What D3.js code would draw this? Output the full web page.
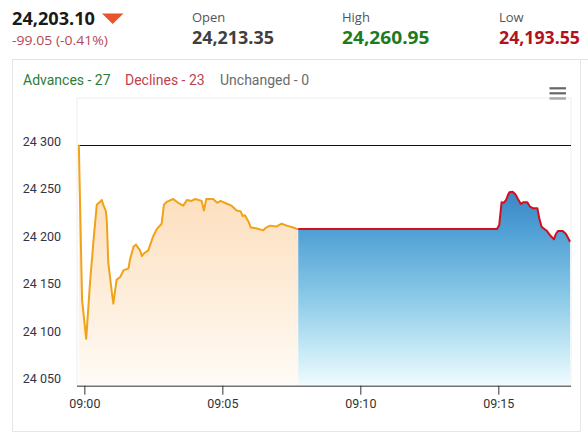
<!DOCTYPE html>
<html><head><meta charset="utf-8">
<script src="https://cdn.jsdelivr.net/npm/d3@7"></script>
<style>
html,body{margin:0;padding:0;background:#fff;}
svg{display:block;}
</style></head>
<body><svg id="c" width="588" height="432"></svg>
<script>
// ---- data ----
const lastPrice = 24203.10;
const change = -99.05;
const changePct = -0.41;
const prevClose = 24302.15;
const statLabels = ["Open", "High", "Low"];
const statValues = [24213.35, 24260.95, 24193.55];
const breadthLabels = ["Advances", "Declines", "Unchanged"];
const breadthValues = [27, 23, 0];

const preTimes = ["08:59:48","08:59:55","09:00:04","09:00:12","09:00:20","09:00:27","09:00:38","09:00:41","09:00:47","09:00:49","09:00:52","09:01:00","09:01:03","09:01:10","09:01:18","09:01:25","09:01:36","09:01:39","09:01:47","09:01:52","09:02:01","09:02:05","09:02:10","09:02:19","09:02:29","09:02:37","09:02:48","09:02:53","09:02:59","09:03:13","09:03:24","09:03:35","09:03:43","09:03:53","09:04:01","09:04:15","09:04:20","09:04:25","09:04:40","09:04:49","09:04:56","09:05:10","09:05:20","09:05:31","09:05:40","09:05:44","09:05:49","09:05:57","09:06:02","09:06:15","09:06:29","09:06:35","09:06:44","09:06:57","09:07:09","09:07:20","09:07:34","09:07:45"];
const preValues = [24302,24139,24098,24155,24202,24239,24244,24239,24232,24220,24178,24146,24135,24160,24163,24170,24172,24181,24195,24197,24191,24185,24188,24191,24205,24213,24219,24239,24242,24245,24241,24238,24244,24243,24245,24243,24233,24245,24245,24241,24243,24240,24238,24233,24232,24227,24228,24221,24215,24214,24212,24215,24217,24216,24219,24217,24215,24213];

const mktTimes = ["09:07:45","09:14:57","09:15:02","09:15:07","09:15:12","09:15:17","09:15:20","09:15:24","09:15:31","09:15:37","09:15:43","09:15:49","09:15:54","09:16:03","09:16:09","09:16:16","09:16:25","09:16:29","09:16:34","09:16:45","09:16:52","09:17:01","09:17:05","09:17:10","09:17:20","09:17:27","09:17:32","09:17:36"];
const mktValues = [24213.35,24213.35,24217.7,24241.5,24241.1,24244,24248.2,24252.1,24252.7,24250,24244.7,24239.7,24241.5,24241.5,24236.9,24235.2,24235.2,24224.7,24215.9,24211.7,24207.2,24202.6,24208.2,24211.4,24211.4,24208.2,24203.7,24200.1];

const xTickTimes = ["09:00:00","09:05:00","09:10:00","09:15:00"];
const yTickValues = [24050, 24100, 24150, 24200, 24250, 24300];
const xDomainTimes = ["08:59:44", "09:17:38"];
const yDomain = [24048.7, 24351.2];

// ---- helpers ----
const parseT = d3.timeParse("%H:%M:%S");
const fmtPrice = d3.format(",.2f");
const pre = preTimes.map((t, i) => ({t: parseT(t), v: preValues[i]}));
const mkt = mktTimes.map((t, i) => ({t: parseT(t), v: mktValues[i]}));

const svg = d3.select("#c");
const defs = svg.append("defs");

// ---- header ----
const hdrFont = "'Open Sans', 'Noto Sans', sans-serif";
svg.append("text").attr("x", 12).attr("y", 25)
  .attr("font-family", hdrFont).attr("font-weight", 700).attr("font-size", 17.5)
  .attr("fill", "#1a1a1a").attr("textLength", 83).attr("lengthAdjust", "spacingAndGlyphs")
  .text(fmtPrice(lastPrice));
svg.append("path").attr("d", "M102,13.5 L123.5,13.5 L112.7,24 Z").attr("fill", "#e8542b");
svg.append("text").attr("x", 12).attr("y", 45)
  .attr("font-family", hdrFont).attr("font-size", 13.5).attr("fill", "#b04a55")
  .attr("textLength", 96).attr("lengthAdjust", "spacingAndGlyphs")
  .text((d3.format(".2f")(change) + " (" + d3.format(".2f")(changePct) + "%)").replace(/\u2212/g, "-"));

const statX = [192, 342, 499];
const statW = [82, 87.5, 81];
const statColors = ["#3f3f3f", "#1d7a1d", "#b3121c"];
statLabels.forEach((lab, i) => {
  svg.append("text").attr("x", statX[i]).attr("y", 21.5)
    .attr("font-family", hdrFont).attr("font-size", 13).attr("fill", "#555")
    .text(lab);
  svg.append("text").attr("x", statX[i]).attr("y", 44)
    .attr("font-family", hdrFont).attr("font-weight", 700).attr("font-size", 17)
    .attr("fill", statColors[i]).attr("textLength", statW[i]).attr("lengthAdjust", "spacingAndGlyphs")
    .text(fmtPrice(statValues[i]));
});

// card
svg.append("line").attr("x1", 12).attr("x2", 588).attr("y1", 59.5).attr("y2", 59.5).attr("stroke", "#e3e3e3");
svg.append("path").attr("d", "M12.5,59.5 V431.5 H580.5 V59.5").attr("fill", "none").attr("stroke", "#e6e6e6");

// breadth legend
const chartFont = "Roboto, 'Liberation Sans', sans-serif";
const brX = [23, 125, 220];
const brColors = ["#2e7d3a", "#c0424c", "#6b6b6b"];
breadthLabels.forEach((lab, i) => {
  svg.append("text").attr("x", brX[i]).attr("y", 84.5)
    .attr("font-family", chartFont).attr("font-size", 14).attr("fill", brColors[i])
    .text(lab + " - " + breadthValues[i]);
});

// hamburger
[88.3, 93.3, 98.3].forEach(y => {
  svg.append("line").attr("x1", 549.5).attr("x2", 566).attr("y1", y).attr("y2", y)
    .attr("stroke", "#666").attr("stroke-width", 2.2);
});

// ---- scales ----
const plot = {l: 77, r: 571, t: 98, b: 385.7};
const x = d3.scaleTime().domain(xDomainTimes.map(parseT)).range([plot.l, plot.r]);
const y = d3.scaleLinear().domain(yDomain).range([plot.b, plot.t]);

// plot border
svg.append("rect").attr("x", plot.l).attr("y", plot.t).attr("width", plot.r - plot.l).attr("height", plot.b - plot.t)
  .attr("fill", "none").attr("stroke", "#eeeeee");

// gradients (user space, vertical)
const gO = defs.append("linearGradient").attr("id", "gO").attr("gradientUnits", "userSpaceOnUse")
  .attr("x1", 0).attr("y1", plot.t + 47).attr("x2", 0).attr("y2", plot.b);
gO.append("stop").attr("offset", "0%").attr("stop-color", "#fcd8ae");
gO.append("stop").attr("offset", "30%").attr("stop-color", "#fde2c4");
gO.append("stop").attr("offset", "100%").attr("stop-color", "#fffbf6");
const gB = defs.append("linearGradient").attr("id", "gB").attr("gradientUnits", "userSpaceOnUse")
  .attr("x1", 0).attr("y1", 190).attr("x2", 0).attr("y2", plot.b);
gB.append("stop").attr("offset", "0%").attr("stop-color", "#3a84c4");
gB.append("stop").attr("offset", "20%").attr("stop-color", "#4e9fd4");
gB.append("stop").attr("offset", "56%").attr("stop-color", "#8dcbe8");
gB.append("stop").attr("offset", "82%").attr("stop-color", "#c6e9f6");
gB.append("stop").attr("offset", "100%").attr("stop-color", "#f0fbfe");

const area = d3.area().x(d => x(d.t)).y0(plot.b).y1(d => y(d.v));
const line = d3.line().x(d => x(d.t)).y(d => y(d.v));

svg.append("path").datum(pre).attr("d", area).attr("fill", "url(#gO)");
svg.append("path").datum(mkt).attr("d", area).attr("fill", "url(#gB)");

// previous close line
svg.append("line").attr("x1", x(pre[0].t)).attr("x2", plot.r)
  .attr("y1", Math.round(y(prevClose)) + 0.5).attr("y2", Math.round(y(prevClose)) + 0.5)
  .attr("stroke", "#111").attr("stroke-width", 1);

svg.append("path").datum(pre).attr("d", line).attr("fill", "none")
  .attr("stroke", "#f0a318").attr("stroke-width", 2).attr("stroke-linejoin", "round");
svg.append("path").datum(mkt).attr("d", line).attr("fill", "none")
  .attr("stroke", "#d30f1e").attr("stroke-width", 2).attr("stroke-linejoin", "round");

// ---- axes ----
const xAxis = d3.axisBottom(x).tickValues(xTickTimes.map(parseT))
  .tickSize(9).tickSizeOuter(0).tickFormat(d3.timeFormat("%H:%M"));
const gx = svg.append("g").attr("transform", `translate(0,${plot.b})`).call(xAxis);
gx.select(".domain").attr("stroke", "#333").attr("d", `M${plot.l},0.5H${plot.r}`);
gx.selectAll(".tick line").attr("stroke", "#333");
gx.selectAll(".tick text").attr("font-family", chartFont).attr("font-size", 12.5)
  .attr("fill", "#333").attr("y", 13).attr("dy", "0.71em");

const yAxis = d3.axisLeft(y).tickValues(yTickValues).tickSize(0)
  .tickFormat(d => d3.format(",")(d).replace(/,/g, " "));
const gy = svg.append("g").attr("transform", `translate(61,0)`).call(yAxis);
gy.select(".domain").remove();
gy.selectAll(".tick text").attr("font-family", chartFont).attr("font-size", 12.5)
  .attr("fill", "#33334a").attr("x", 0).attr("dy", "-0.12em");
</script>
</body></html>
